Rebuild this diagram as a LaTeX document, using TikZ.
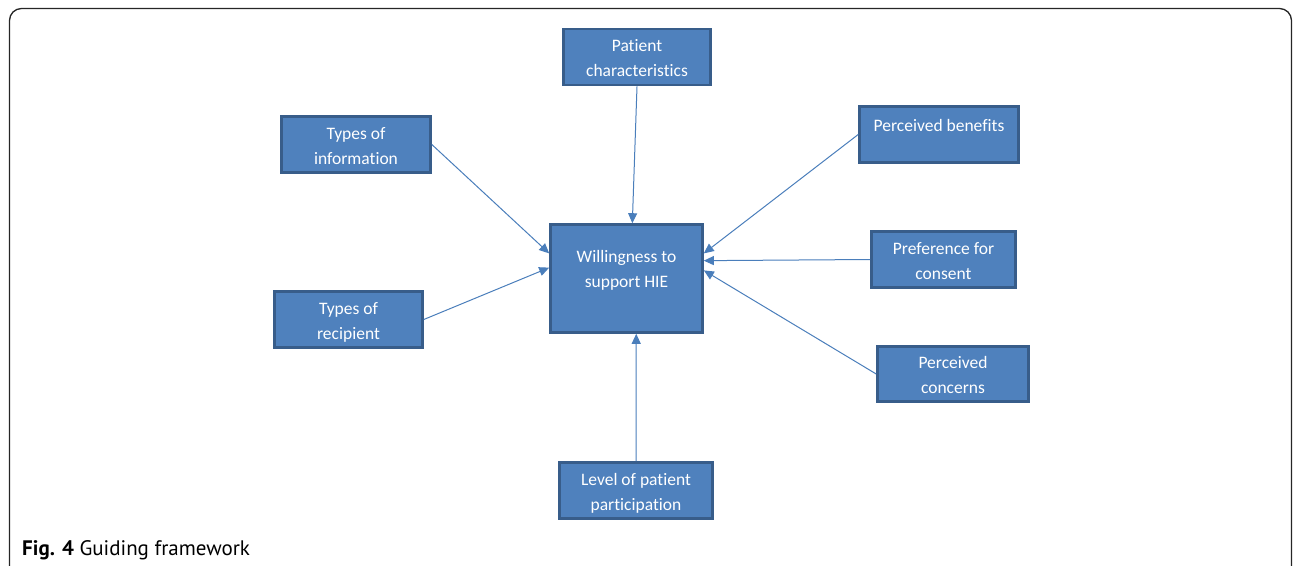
\documentclass[tikz,border=0pt]{standalone}
\usepackage{fontspec}
\setmainfont{Carlito}[Ligatures=NoCommon]
\newfontfamily\capfont{PT Sans}
\usetikzlibrary{arrows,arrows.meta,positioning}

\definecolor{boxfill}{HTML}{4F81BD}
\definecolor{boxline}{HTML}{385D8A}
\definecolor{linkcol}{HTML}{4A7EBB}

\tikzset{
  factor/.style={draw=boxline,line width=2.6pt,fill=boxfill,text=white,
    align=center,minimum height=56pt,inner sep=2pt,
    text height=43pt,text depth=4pt,
    font=\fontsize{17.5}{25}\selectfont},
  link/.style={draw=linkcol,line width=1pt,-{Triangle[length=10pt,width=9pt]}},
  frame/.style={draw=black!85,line width=1.3pt,rounded corners=12pt}
}

\begin{document}
\begin{tikzpicture}[x=1pt,y=-1pt]

\useasboundingbox (0,0) rectangle (1293,565);
\draw [frame] (9.5,8.5) rectangle (1291.5,580);

% centre
\node [factor,minimum width=152pt,minimum height=108pt,text depth=25pt] (will) at (626.5,278.5) {Willingness to\\support HIE};

% factors round it
\node [factor,minimum width=147pt] (patient) at (637,57) {Patient\\characteristics};
\node [factor,minimum width=149pt] (info) at (356,144.5) {Types of\\information};
\node [factor,minimum width=148pt] (recip) at (348.5,319.5) {Types of\\recipient};
\node [factor,minimum width=159pt,text height=13pt,text depth=19pt] (benefit) at (939,134.5) {Perceived benefits};
\node [factor,minimum width=144pt] (pref) at (943.5,259.5) {Preference for\\consent};
\node [factor,minimum width=151pt,minimum height=55pt] (concern) at (953,374) {Perceived\\concerns};
\node [factor,minimum width=153pt] (level) at (636,490.5) {Level of patient\\participation};

\draw [link] (patient.south) -- (will.84);
\draw [link] (info.east) -- (will.162);
\draw [link] (recip.east) -- (will.172);
\draw [link] (benefit.west) -- (will.18);
\draw [link] (pref.west) -- (will.13);
\draw [link] (concern.west) -- (will.6);
\draw [link] (level.north) -- (will.-80);

% caption
\node [anchor=base west,inner sep=0pt,font=\capfont\fontsize{21}{24}\selectfont] (cap) at (22,555) {\textbf{Fig. 4} Guiding framework};

\end{tikzpicture}
\end{document}
